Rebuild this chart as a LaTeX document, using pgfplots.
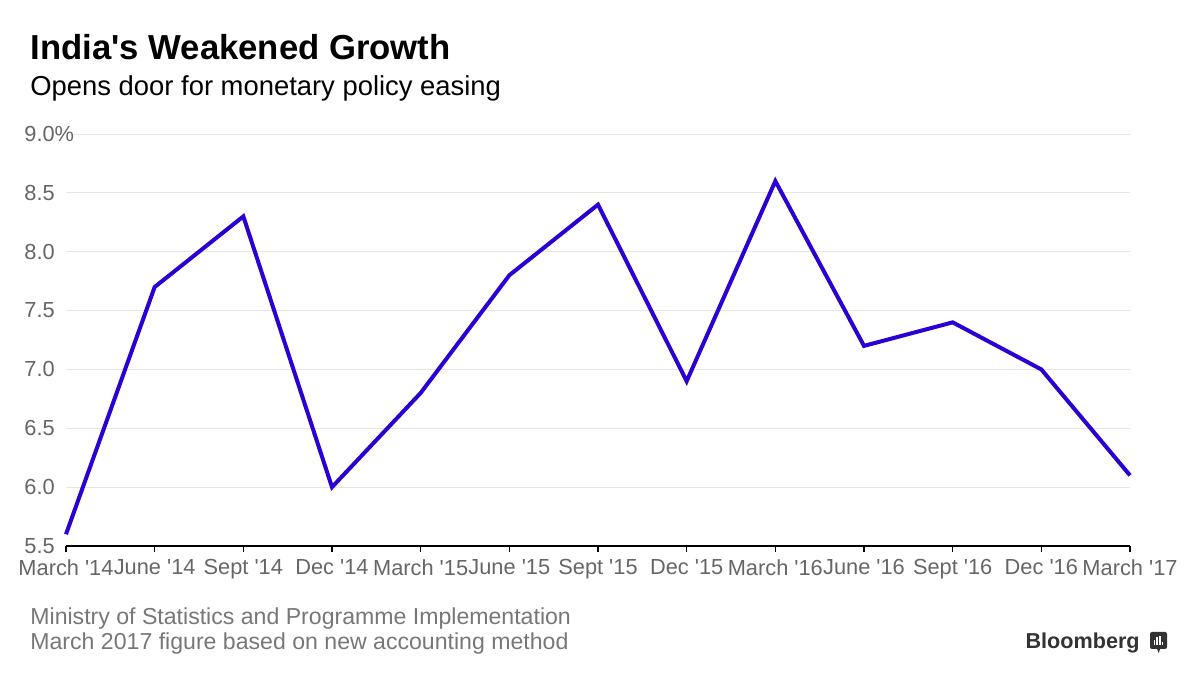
\documentclass[border=0pt]{standalone}
\usepackage{pgfplots}
\pgfplotsset{compat=1.18}
\usepackage{fontspec}
\setmainfont{Liberation Sans}[Ligatures=TeXOff]
\definecolor{linec}{HTML}{2A00D5}
\definecolor{tickgray}{HTML}{666666}
\definecolor{gridc}{HTML}{E6E6E6}
\definecolor{foot}{HTML}{777777}
\definecolor{logo}{HTML}{333333}
\pgfplotstableread{
x y
0 5.6
1 7.7
2 8.3
3 6.0
4 6.8
5 7.8
6 8.4
7 6.9
8 8.6
9 7.2
10 7.4
11 7.0
12 6.1
}\gdp
\begin{document}
\begin{tikzpicture}[x=1pt,y=1pt]
\useasboundingbox (0,0) rectangle (597.5,340);
\begin{axis}[at={(33pt,67pt)}, anchor=south west, scale only axis,
  width=532pt, height=206pt,
  xmin=0, xmax=12, ymin=5.5, ymax=9.0,
  axis x line*=bottom, axis y line*=left,
  y axis line style={draw=none},
  x axis line style={black, line width=0.75pt},
  xtick={0,...,12},
  xticklabels={March '14,June '14,Sept '14,Dec '14,March '15,June '15,Sept '15,Dec '15,March '16,June '16,Sept '16,Dec '16,March '17},
  ytick={5.5,6.0,6.5,7.0,7.5,8.0,8.5,9.0},
  yticklabels={5.5,6.0,6.5,7.0,7.5,8.0,8.5,9.0\%},
  tick align=outside,
  major tick length=3pt,
  xtick style={black, line width=0.6pt},
  ytick style={draw=none},
  ymajorgrids, grid style={gridc, line width=0.5pt},
  tick label style={text=tickgray, font=\fontsize{10.9}{12}\selectfont, inner sep=0pt},
  xticklabel style={anchor=north, yshift=-3.5pt},
  yticklabel style={anchor=west, xshift=-18pt, fill=white, inner xsep=0pt, inner ysep=1pt},
  clip=false,
]
\addplot[linec, line width=2pt] table[x=x, y=y] {\gdp};
\end{axis}
\node[anchor=base west, inner sep=0pt, font=\fontsize{17.35}{20}\bfseries\selectfont] at (15,310) {India's Weakened Growth};
\node[anchor=base west, inner sep=0pt, font=\fontsize{13.7}{16}\selectfont] at (15,292) {Opens door for monetary policy easing};
\node[anchor=base west, inner sep=0pt, text=foot, font=\fontsize{11.55}{14}\selectfont] at (15,27.5) {Ministry of Statistics and Programme Implementation};
\node[anchor=base west, inner sep=0pt, text=foot, font=\fontsize{11.55}{14}\selectfont] at (15,15) {March 2017 figure based on new accounting method};
\node[anchor=base east, inner sep=0pt, text=logo, font=\fontsize{10.8}{13}\bfseries\selectfont] at (570,15.5) {Bloomberg};
\fill[logo, rounded corners=1pt] (575,15.5) rectangle (583.5,24);
\fill[logo] (578.5,15.6) -- (579.3,13.5) -- (580.1,15.6) -- cycle;
\fill[white] (576.8,17.3) rectangle (577.5,20);
\fill[white] (578.2,17.3) rectangle (578.9,21.5);
\fill[white] (579.6,17.3) rectangle (580.3,22.2);
\fill[white] (581.0,17.3) rectangle (581.7,19.2);
\end{tikzpicture}
\end{document}
